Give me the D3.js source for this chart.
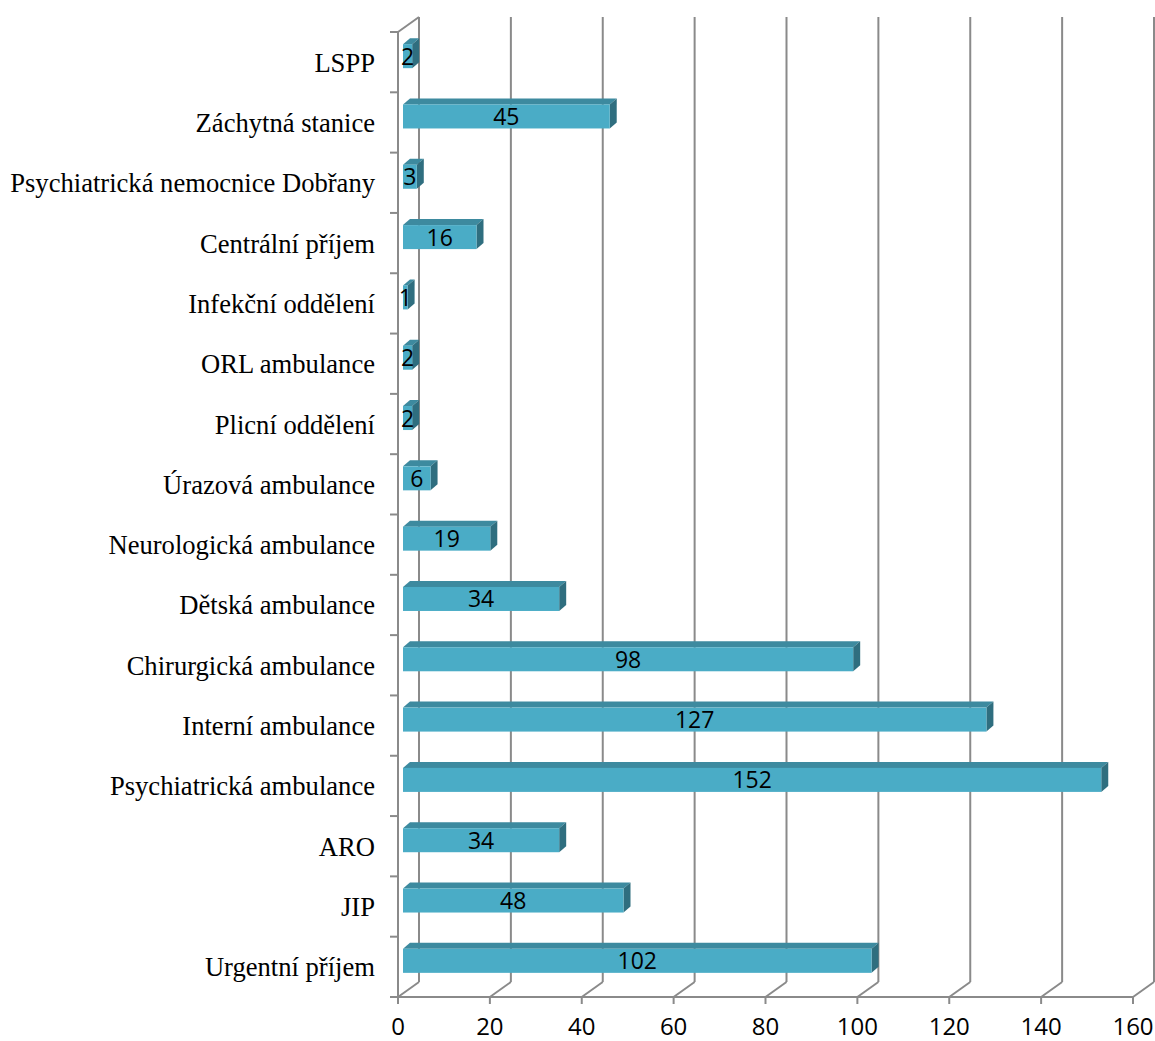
<!DOCTYPE html>
<html>
<head>
<meta charset="utf-8">
<script src="https://cdn.jsdelivr.net/npm/d3@7"></script>
<style>
  html, body { margin: 0; padding: 0; background: #fff; }
  svg { display: block; }
</style>
</head>
<body>
<script>
// Category names (top to bottom) and counts
const categories = [
  "LSPP", "Záchytná stanice", "Psychiatrická nemocnice Dobřany", "Centrální příjem",
  "Infekční oddělení", "ORL ambulance", "Plicní oddělení", "Úrazová ambulance",
  "Neurologická ambulance", "Dětská ambulance", "Chirurgická ambulance",
  "Interní ambulance", "Psychiatrická ambulance", "ARO", "JIP", "Urgentní příjem"
];
const values = [2, 45, 3, 16, 1, 2, 2, 6, 19, 34, 98, 127, 152, 34, 48, 102];
const xTicks = [0, 20, 40, 60, 80, 100, 120, 140, 160];

const W = 1155, H = 1041;
const svg = d3.select("body").append("svg").attr("width", W).attr("height", H);

const x = d3.scaleLinear().domain([0, 160]).range([398, 1133]);
const y = d3.scaleBand().domain(categories).range([32, 997]);

// depth of the plot box (front plane -> back wall)
const DX = 21, DY = -15;
// bar placement inside the depth and its own thickness
const BX = 5, BDX = 7, BDY = -6, FACE = 24;

const grid = "#8a8a8a";
const sans = "'Open Sans', Lato, sans-serif";
const g = svg.append("g");

// back wall gridlines
g.selectAll("line.grid").data(xTicks).join("line")
  .attr("x1", d => x(d) + DX).attr("x2", d => x(d) + DX)
  .attr("y1", 32 + DY).attr("y2", 997 + DY)
  .attr("stroke", grid).attr("stroke-width", 2);

// floor diagonals
g.selectAll("line.floor").data(xTicks).join("line")
  .attr("x1", d => x(d)).attr("y1", 997)
  .attr("x2", d => x(d) + DX).attr("y2", 997 + DY)
  .attr("stroke", grid).attr("stroke-width", 2);

// left wall top edge
g.append("line").attr("x1", x(0)).attr("y1", 32).attr("x2", x(0) + DX).attr("y2", 32 + DY)
  .attr("stroke", grid).attr("stroke-width", 2);

// front value axis
g.append("line").attr("x1", x(0)).attr("x2", x(160)).attr("y1", 997).attr("y2", 997)
  .attr("stroke", grid).attr("stroke-width", 2);
g.selectAll("line.xt").data(xTicks).join("line")
  .attr("x1", d => x(d)).attr("x2", d => x(d)).attr("y1", 997).attr("y2", 1004)
  .attr("stroke", grid).attr("stroke-width", 2);

// front category axis
g.append("line").attr("x1", x(0)).attr("x2", x(0)).attr("y1", 32).attr("y2", 997)
  .attr("stroke", grid).attr("stroke-width", 2);
const bounds = categories.map(c => y(c)).concat([997]);
g.selectAll("line.yt").data(bounds).join("line")
  .attr("x1", x(0) - 8).attr("x2", x(0)).attr("y1", d => d).attr("y2", d => d)
  .attr("stroke", grid).attr("stroke-width", 2);

// bars (front, top and side faces)
const data = categories.map((c, i) => ({ c, v: values[i] }));
const bars = g.selectAll("g.bar").data(data).join("g");
const geom = d => {
  const cy = y(d.c) + y.bandwidth() / 2;
  const x0 = x(0) + BX, x1 = x(d.v) + BX;
  const y0 = cy - 18, y1 = y0 + FACE;
  return { x0, x1, y0, y1 };
};
bars.append("polygon")
  .attr("points", d => { const b = geom(d);
    return [[b.x0, b.y0], [b.x0 + BDX, b.y0 + BDY], [b.x1 + BDX, b.y0 + BDY], [b.x1, b.y0]].join(" "); })
  .attr("fill", "#3d8a9f");
bars.append("polygon")
  .attr("points", d => { const b = geom(d);
    return [[b.x1, b.y0], [b.x1 + BDX, b.y0 + BDY], [b.x1 + BDX, b.y1 + BDY], [b.x1, b.y1]].join(" "); })
  .attr("fill", "#2f6e7f");
bars.append("rect")
  .attr("x", d => geom(d).x0).attr("y", d => geom(d).y0)
  .attr("width", d => geom(d).x1 - geom(d).x0).attr("height", FACE)
  .attr("fill", "#4aacc6");

// value labels
bars.append("text")
  .attr("x", d => { const b = geom(d); return (b.x0 + b.x1) / 2; })
  .attr("y", d => geom(d).y0 + FACE / 2 + 8.5)
  .attr("text-anchor", "middle")
  .attr("font-family", sans).attr("font-size", 23)
  .attr("fill", "#000")
  .text(d => d.v);

// category labels
g.selectAll("text.cat").data(categories).join("text")
  .attr("x", 375).attr("y", d => y(d) + y.bandwidth() / 2 + 9.5)
  .attr("text-anchor", "end")
  .attr("font-family", "'Liberation Serif', 'Times New Roman', serif").attr("font-size", 26.6)
  .attr("fill", "#000")
  .text(d => d);

// value tick labels
g.selectAll("text.xl").data(xTicks).join("text")
  .attr("x", d => x(d)).attr("y", 1035)
  .attr("text-anchor", "middle")
  .attr("font-family", sans).attr("font-size", 24)
  .attr("fill", "#000")
  .text(d => d);
</script>
</body>
</html>
